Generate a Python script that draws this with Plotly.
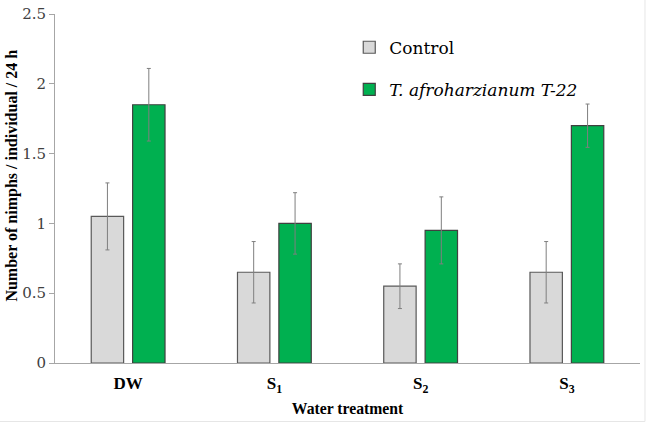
import plotly.graph_objects as go

categories = ["DW", "S<sub>1</sub>", "S<sub>2</sub>", "S<sub>3</sub>"]
control_vals = [1.05, 0.65, 0.55, 0.65]
control_err = [0.24, 0.22, 0.16, 0.22]
tricho_vals = [1.85, 1.00, 0.95, 1.70]
tricho_err = [0.26, 0.22, 0.24, 0.155]
y_ticks = [0, 0.5, 1, 1.5, 2, 2.5]
y_ticklabels = ["0", "0.5", "1", "1.5", "2", "2.5"]

serif = "Liberation Serif"
serif_reg = "DejaVu Serif"

fig = go.Figure()
fig.add_trace(go.Bar(
    x=categories, y=control_vals, name="Control", legendgroup="a",
    marker=dict(color="#D9D9D9", line=dict(color="#595959", width=1.2)),
    error_y=dict(type="data", array=control_err, color="#7F7F7F", thickness=1, width=2),
))
fig.add_trace(go.Bar(
    x=categories, y=tricho_vals, name="<i>T. afroharzianum T-22</i>", legendgroup="b",
    marker=dict(color="#00B050", line=dict(color="#404040", width=1.2)),
    error_y=dict(type="data", array=tricho_err, color="#7F7F7F", thickness=1, width=2),
))

fig.update_layout(
    width=648, height=424, autosize=False,
    margin=dict(l=55, r=8, t=14, b=61, autoexpand=False),
    paper_bgcolor="white", plot_bgcolor="white",
    barmode="group", bargap=0.434, bargroupgap=0.217,
    font=dict(family=serif, color="black"),
    legend=dict(x=0.503, y=0.955, xanchor="left", yanchor="top",
                font=dict(size=17, family=serif_reg, color="black"),
                tracegroupgap=17, bgcolor="rgba(0,0,0,0)"),
    xaxis=dict(showline=True, linecolor="#A6A6A6", linewidth=1, ticks="",
               ticklabelstandoff=5, automargin=False,
               tickfont=dict(size=17, family=serif, color="black", weight="bold"),
               title=dict(text="<b>Water treatment</b>", font=dict(size=15.7, family=serif), standoff=8)),
    yaxis=dict(range=[0, 2.5], tickvals=y_ticks, ticktext=y_ticklabels,
               showline=True, linecolor="#A6A6A6", linewidth=1, automargin=False,
               ticks="outside", ticklen=5, tickcolor="#A6A6A6",
               showgrid=False, zeroline=False,
               tickfont=dict(size=15, family=serif_reg, color="#404040")),
    showlegend=True,
)
fig.add_annotation(
    text="<b>Number of nimphs / individual / 24 h</b>", textangle=-90,
    xref="paper", yref="paper", x=-0.0735, y=0.537, xanchor="center", yanchor="middle",
    showarrow=False, font=dict(size=16, family=serif, color="black"),
)
fig.add_shape(type="rect", xref="paper", yref="paper",
              x0=-0.2, x1=1.0085, y0=-0.1676, y1=1.2,
              line=dict(color="#E6E6E6", width=1), fillcolor="rgba(0,0,0,0)", layer="below")

fig.write_html("out.html", config={"displayModeBar": False},
               post_script="document.body.style.margin='0px';")
